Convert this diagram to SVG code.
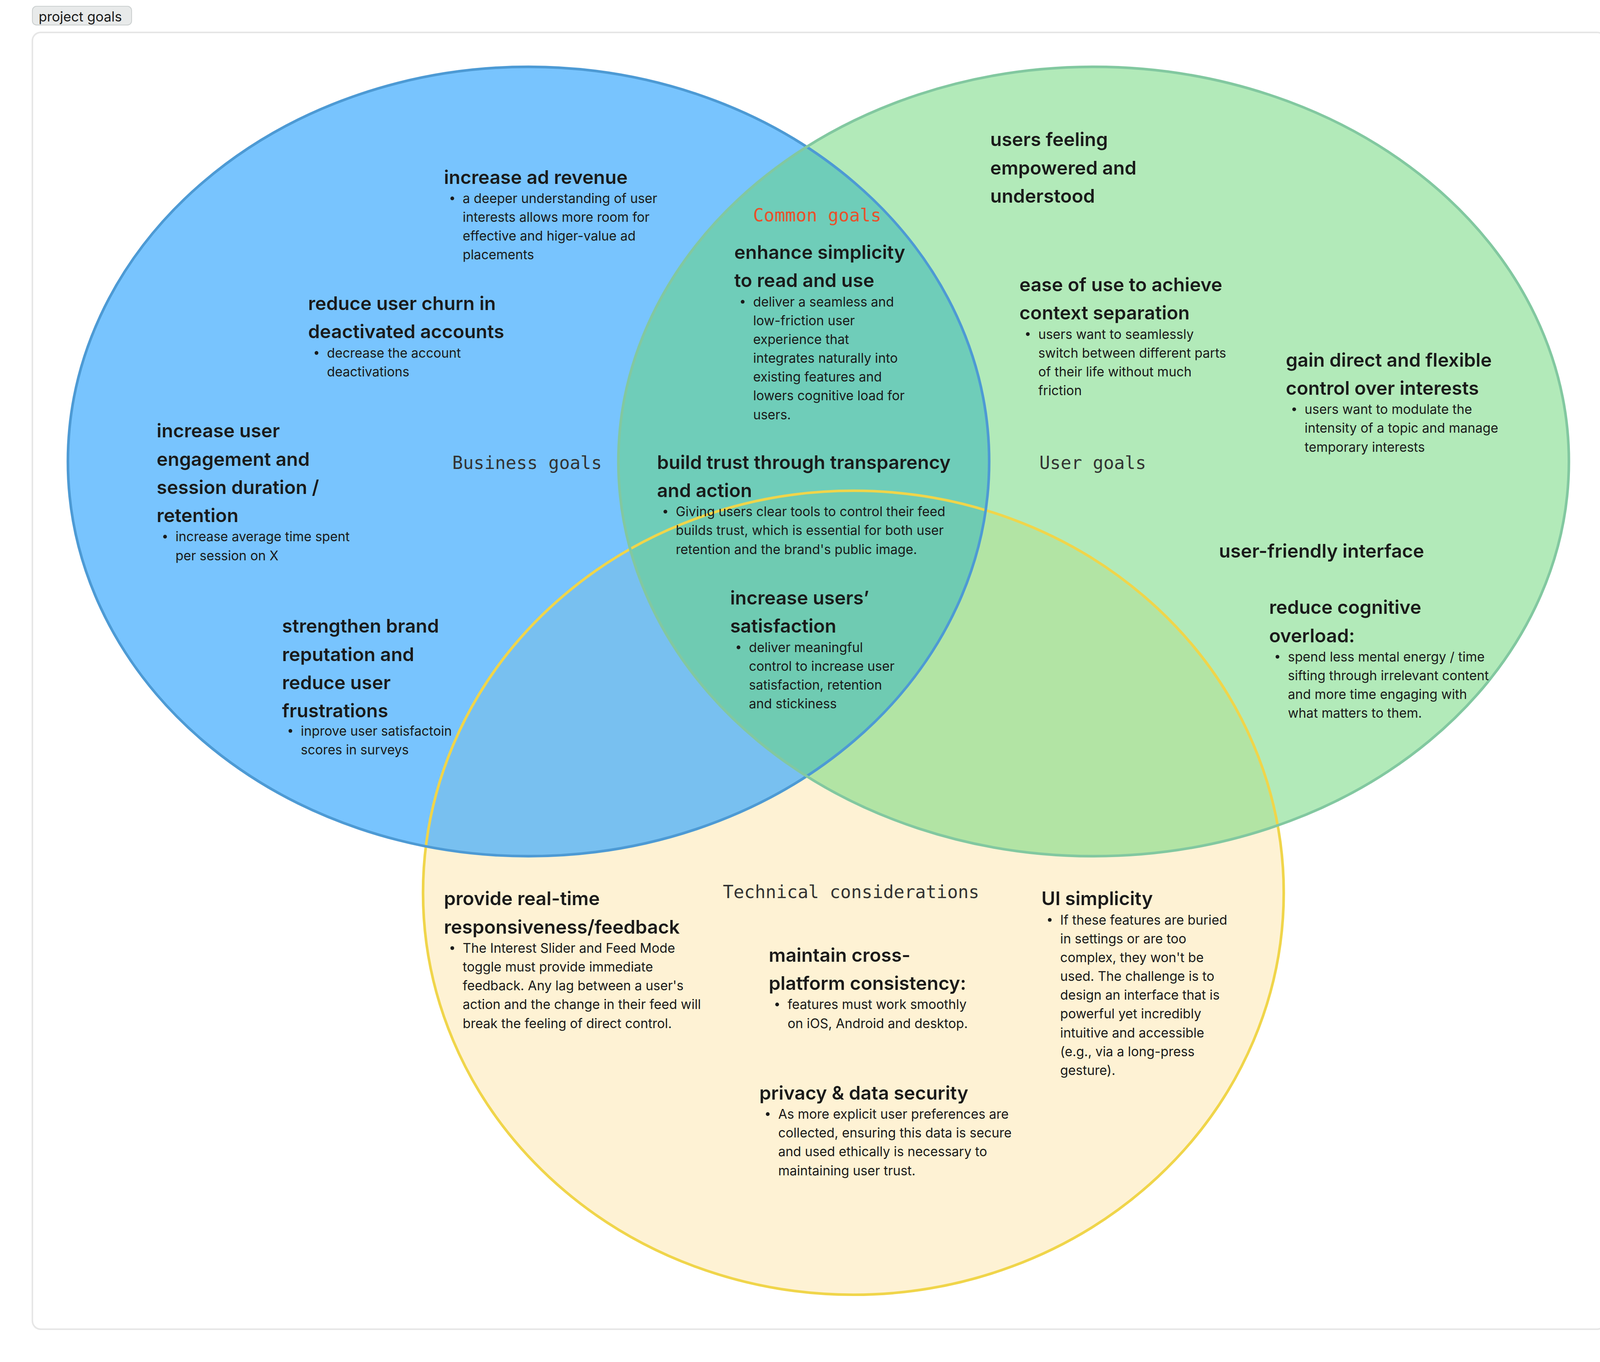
<svg xmlns="http://www.w3.org/2000/svg" width="4192" height="3488" viewBox="0 0 4192 3488">
<style>
.h{font-family:Inter,"Liberation Sans",sans-serif;font-weight:600;font-size:18px;fill:#1a1a1a}
.b{font-family:Inter,"Liberation Sans",sans-serif;font-size:12.5px;fill:#1a1a1a}
.m{font-family:"DejaVu Sans Mono","Liberation Mono",monospace;font-size:17px;fill:#333}
.d{fill:#1a1a1a}
</style>
<rect width="4192" height="3488" fill="#fff"/>
<g transform="scale(2.674)">
<g id="frame">
<rect x="31" y="31" width="1506" height="1242" rx="8" fill="#fff" stroke="#e6e6e6" stroke-width="1.5"/>
<rect x="31" y="6" width="95" height="18" rx="4" fill="#e8eaea" stroke="#ccd0d0" stroke-width="0.8"/>
<text x="37" y="20.5" font-family="Inter,'Liberation Sans',sans-serif" font-size="13" fill="#1a1a1a">project goals</text>
</g>
<g id="circles">
<ellipse cx="817" cy="855" rx="412" ry="385" fill="#fef2d4"/>
<ellipse cx="506" cy="442" rx="441" ry="378" fill="#36a7fe" fill-opacity="0.67"/>
<ellipse cx="1047" cy="442" rx="455" ry="378" fill="#66d673" fill-opacity="0.5"/>
<ellipse cx="817" cy="855" rx="412" ry="385" fill="none" stroke="#f0d54a" stroke-width="2.5"/>
<ellipse cx="506" cy="442" rx="441" ry="378" fill="none" stroke="#4d9ad4" stroke-width="2.5"/>
<ellipse cx="1047" cy="442" rx="455" ry="378" fill="none" stroke="#82c8a0" stroke-width="2.5"/>
</g>
<g id="labels">
<text class="m" x="433" y="449">Business goals</text>
<text class="m" x="721" y="212" style="fill:#e8502a">Common goals</text>
<text class="m" x="995" y="449">User goals</text>
<text class="m" x="692" y="860">Technical considerations</text>
</g>
<g id="ad-revenue">
<text class="h" x="425" y="176">increase ad revenue</text>
<circle class="d" cx="433" cy="190" r="1.8"/>
<text class="b" y="194.5"><tspan x="443">a deeper understanding of user</tspan><tspan x="443" dy="18">interests allows more room for</tspan><tspan x="443" dy="18">effective and higer-value ad</tspan><tspan x="443" dy="18">placements</tspan></text>
</g>
<g id="churn">
<text class="h" y="297"><tspan x="295">reduce user churn in</tspan><tspan x="295" dy="27">deactivated accounts</tspan></text>
<circle class="d" cx="303" cy="338" r="1.8"/>
<text class="b" y="342.5"><tspan x="313">decrease the account</tspan><tspan x="313" dy="18">deactivations</tspan></text>
</g>
<g id="engagement">
<text class="h" y="419"><tspan x="150">increase user</tspan><tspan x="150" dy="27">engagement and</tspan><tspan x="150" dy="27">session duration /</tspan><tspan x="150" dy="27">retention</tspan></text>
<circle class="d" cx="158" cy="514" r="1.8"/>
<text class="b" y="518.5"><tspan x="168">increase average time spent</tspan><tspan x="168" dy="18">per session on X</tspan></text>
</g>
<g id="brand">
<text class="h" y="606"><tspan x="270">strengthen brand</tspan><tspan x="270" dy="27">reputation and</tspan><tspan x="270" dy="27">reduce user</tspan><tspan x="270" dy="27">frustrations</tspan></text>
<circle class="d" cx="278" cy="700" r="1.8"/>
<text class="b" y="704.5"><tspan x="288">inprove user satisfactoin</tspan><tspan x="288" dy="18">scores in surveys</tspan></text>
</g>
<g id="simplicity">
<text class="h" y="248"><tspan x="703">enhance simplicity</tspan><tspan x="703" dy="27">to read and use</tspan></text>
<circle class="d" cx="711" cy="289" r="1.8"/>
<text class="b" y="293.5"><tspan x="721">deliver a seamless and</tspan><tspan x="721" dy="18">low-friction user</tspan><tspan x="721" dy="18">experience that</tspan><tspan x="721" dy="18">integrates naturally into</tspan><tspan x="721" dy="18">existing features and</tspan><tspan x="721" dy="18">lowers cognitive load for</tspan><tspan x="721" dy="18">users.</tspan></text>
</g>
<g id="trust">
<text class="h" y="449"><tspan x="629">build trust through transparency</tspan><tspan x="629" dy="27">and action</tspan></text>
<circle class="d" cx="637" cy="490" r="1.8"/>
<text class="b" y="494.5"><tspan x="647">Giving users clear tools to control their feed</tspan><tspan x="647" dy="18">builds trust, which is essential for both user</tspan><tspan x="647" dy="18">retention and the brand's public image.</tspan></text>
</g>
<g id="satisfaction">
<text class="h" y="579"><tspan x="699">increase users’</tspan><tspan x="699" dy="27">satisfaction</tspan></text>
<circle class="d" cx="707" cy="620" r="1.8"/>
<text class="b" y="624.5"><tspan x="717">deliver meaningful</tspan><tspan x="717" dy="18">control to increase user</tspan><tspan x="717" dy="18">satisfaction, retention</tspan><tspan x="717" dy="18">and stickiness</tspan></text>
</g>
<g id="empowered">
<text class="h" y="140"><tspan x="948">users feeling</tspan><tspan x="948" dy="27">empowered and</tspan><tspan x="948" dy="27">understood</tspan></text>
</g>
<g id="context">
<text class="h" y="279"><tspan x="976">ease of use to achieve</tspan><tspan x="976" dy="27">context separation</tspan></text>
<circle class="d" cx="984" cy="320" r="1.8"/>
<text class="b" y="324.5"><tspan x="994">users want to seamlessly</tspan><tspan x="994" dy="18">switch between different parts</tspan><tspan x="994" dy="18">of their life without much</tspan><tspan x="994" dy="18">friction</tspan></text>
</g>
<g id="control">
<text class="h" y="351"><tspan x="1231">gain direct and flexible</tspan><tspan x="1231" dy="27">control over interests</tspan></text>
<circle class="d" cx="1239" cy="392" r="1.8"/>
<text class="b" y="396.5"><tspan x="1249">users want to modulate the</tspan><tspan x="1249" dy="18">intensity of a topic and manage</tspan><tspan x="1249" dy="18">temporary interests</tspan></text>
</g>
<g id="friendly">
<text class="h" x="1167" y="534">user-friendly interface</text>
</g>
<g id="overload">
<text class="h" y="588"><tspan x="1215">reduce cognitive</tspan><tspan x="1215" dy="27">overload:</tspan></text>
<circle class="d" cx="1223" cy="629" r="1.8"/>
<text class="b" y="633.5"><tspan x="1233">spend less mental energy / time</tspan><tspan x="1233" dy="18">sifting through irrelevant content</tspan><tspan x="1233" dy="18">and more time engaging with</tspan><tspan x="1233" dy="18">what matters to them.</tspan></text>
</g>
<g id="realtime">
<text class="h" y="867"><tspan x="425">provide real-time</tspan><tspan x="425" dy="27">responsiveness/feedback</tspan></text>
<circle class="d" cx="433" cy="908" r="1.8"/>
<text class="b" y="912.5"><tspan x="443">The Interest Slider and Feed Mode</tspan><tspan x="443" dy="18">toggle must provide immediate</tspan><tspan x="443" dy="18">feedback. Any lag between a user's</tspan><tspan x="443" dy="18">action and the change in their feed will</tspan><tspan x="443" dy="18">break the feeling of direct control.</tspan></text>
</g>
<g id="crossplatform">
<text class="h" y="921"><tspan x="736">maintain cross-</tspan><tspan x="736" dy="27">platform consistency:</tspan></text>
<circle class="d" cx="744" cy="962" r="1.8"/>
<text class="b" y="966.5"><tspan x="754">features must work smoothly</tspan><tspan x="754" dy="18">on iOS, Android and desktop.</tspan></text>
</g>
<g id="privacy">
<text class="h" x="727" y="1053">privacy &amp; data security</text>
<circle class="d" cx="735" cy="1067" r="1.8"/>
<text class="b" y="1071.5"><tspan x="745">As more explicit user preferences are</tspan><tspan x="745" dy="18">collected, ensuring this data is secure</tspan><tspan x="745" dy="18">and used ethically is necessary to</tspan><tspan x="745" dy="18">maintaining user trust.</tspan></text>
</g>
<g id="ui-simplicity">
<text class="h" x="997" y="867">UI simplicity</text>
<circle class="d" cx="1005" cy="881" r="1.8"/>
<text class="b" y="885.5"><tspan x="1015">If these features are buried</tspan><tspan x="1015" dy="18">in settings or are too</tspan><tspan x="1015" dy="18">complex, they won't be</tspan><tspan x="1015" dy="18">used. The challenge is to</tspan><tspan x="1015" dy="18">design an interface that is</tspan><tspan x="1015" dy="18">powerful yet incredibly</tspan><tspan x="1015" dy="18">intuitive and accessible</tspan><tspan x="1015" dy="18">(e.g., via a long-press</tspan><tspan x="1015" dy="18">gesture).</tspan></text>
</g>
<g id="connectors"/>
</g>
</svg>
